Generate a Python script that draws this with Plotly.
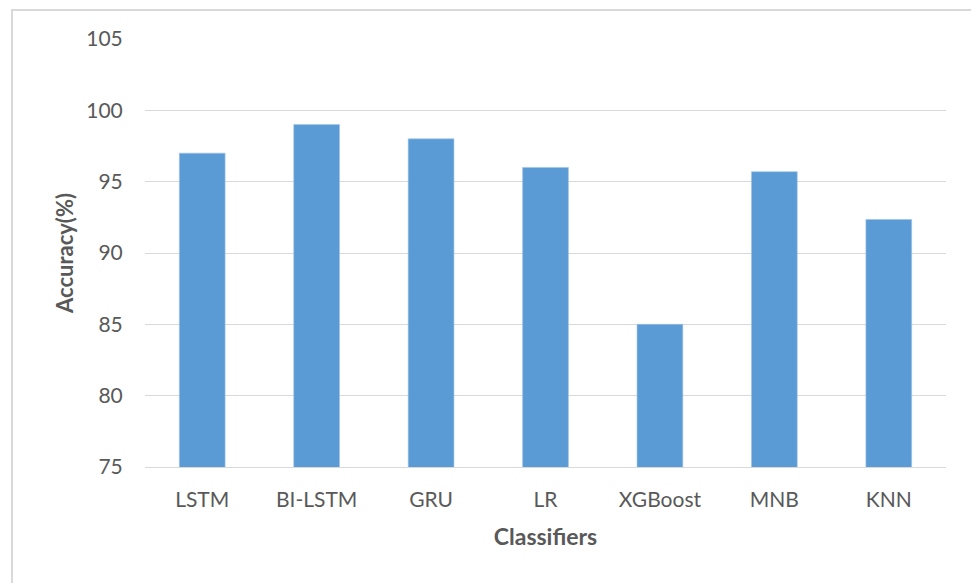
import plotly.graph_objects as go

# Classifier accuracies (%)
classifiers = ["LSTM", "BI-LSTM", "GRU", "LR", "XGBoost", "MNB", "KNN"]
accuracy = [97.0, 99.0, 98.0, 96.0, 85.0, 95.7, 92.35]

y_ticks = [75, 80, 85, 90, 95, 100, 105]

W, H = 971, 583
L, R, T, B = 145, 25, 39, 116

BAR_BLUE = "#5B9BD5"
GRID = "#D9D9D9"
TEXT = "#595959"
FONT = "Lato, Calibri, 'Open Sans', sans-serif"

fig = go.Figure(
    go.Bar(
        x=classifiers,
        y=accuracy,
        marker=dict(color=BAR_BLUE, line=dict(color="#9DC3E6", width=0.6)),
    )
)

plot_w = W - L - R
plot_h = H - T - B


def px_x(px):
    return (px - L) / plot_w


def px_y(py):
    return (H - B - py) / plot_h


fig.update_layout(
    width=W,
    height=H,
    margin=dict(l=L, r=R, t=T, b=B),
    paper_bgcolor="white",
    plot_bgcolor="white",
    bargap=0.6,
    showlegend=False,
    font=dict(family=FONT, color=TEXT, size=21),
    shapes=[
        # chart frame (left and top edges visible)
        dict(
            type="rect",
            xref="paper",
            yref="paper",
            x0=px_x(12),
            x1=px_x(990),
            y0=px_y(600),
            y1=px_y(10),
            line=dict(color=GRID, width=2),
            fillcolor="rgba(0,0,0,0)",
            layer="below",
        )
    ],
)

fig.update_xaxes(
    showgrid=False,
    showline=True,
    linecolor=GRID,
    linewidth=1,
    zeroline=False,
    ticks="outside",
    ticklen=14,
    tickcolor="rgba(0,0,0,0)",
    tickfont=dict(size=21, color=TEXT),
    title=dict(text="<b>Classifiers</b>", font=dict(size=23, color=TEXT), standoff=18),
)

fig.update_yaxes(
    range=[75, 105],
    tickvals=y_ticks,
    showgrid=True,
    gridcolor=GRID,
    gridwidth=1,
    showline=False,
    zeroline=False,
    ticks="outside",
    ticklen=17,
    tickcolor="rgba(0,0,0,0)",
    tickfont=dict(size=21, color=TEXT),
    title=dict(text="<b>Accuracy(%)</b>", font=dict(size=22, color=TEXT), standoff=6),
)

fig.write_html("out.html")
